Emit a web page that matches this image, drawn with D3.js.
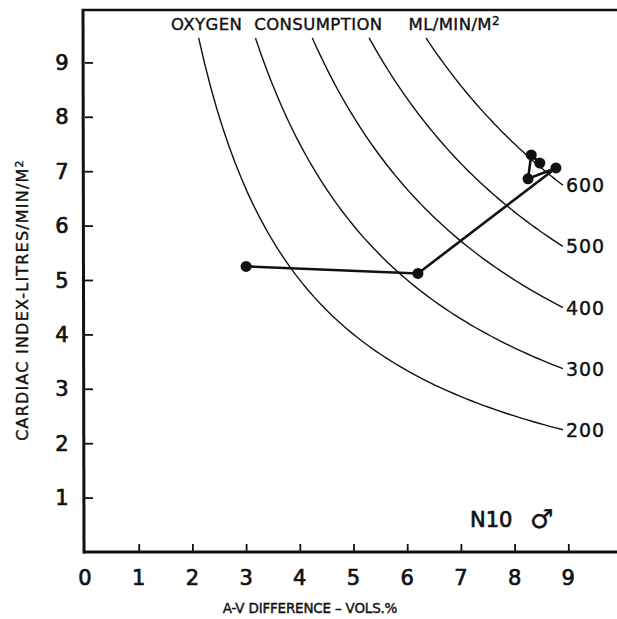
<!DOCTYPE html>
<html>
<head>
<meta charset="utf-8">
<script src="https://cdn.jsdelivr.net/npm/d3@7"></script>
<style>
  html, body { margin: 0; padding: 0; background: #fff; }
  #graph { width: 617px; height: 619px; }
  text { font-family: "DejaVu Sans", sans-serif; fill: #111; }
  .heavy { stroke: #111; stroke-width: 0.7px; }
  .mid { stroke: #111; stroke-width: 0.4px; }
</style>
</head>
<body>
<div id="graph"></div>
<script>
// tick labels
var xTicks = [0, 1, 2, 3, 4, 5, 6, 7, 8, 9];
var yTicks = [1, 2, 3, 4, 5, 6, 7, 8, 9];

// oxygen consumption iso-lines (ml/min/m2)
var levels = [200, 300, 400, 500, 600];

// measured points: A-V difference (vols %), cardiac index (l/min/m2)
var avDiff = [3.0, 6.2, 8.77, 8.25, 8.31, 8.47];
var cardiacIndex = [5.25, 5.12, 7.06, 6.86, 7.3, 7.15];

var svg = d3.select("#graph").append("svg")
  .attr("width", 617).attr("height", 619);

var xScale = d3.scaleLinear().domain([0, 10]).range([85, 622]);
var yScale = d3.scaleLinear().domain([0, 10]).range([552, 8]);

var ink = "#111";

// frame: left axis, bottom axis, top rule
svg.append("line")
  .attr("x1", 82).attr("y1", 10).attr("x2", 617).attr("y2", 10)
  .attr("stroke", ink).attr("stroke-width", 2.5);

var xAxis = svg.append("g")
  .attr("transform", "translate(0," + yScale(0) + ")")
  .call(d3.axisBottom(xScale).tickValues(xTicks.slice(1)).tickSizeInner(-8).tickSizeOuter(0).tickFormat(""));
xAxis.select(".domain").remove();
xAxis.selectAll(".tick line").attr("stroke", ink).attr("stroke-width", 1.8);

svg.append("line")
  .attr("x1", 83).attr("y1", yScale(0)).attr("x2", 617).attr("y2", yScale(0))
  .attr("stroke", ink).attr("stroke-width", 3);

var yAxis = svg.append("g")
  .attr("transform", "translate(" + xScale(0) + ",0)")
  .call(d3.axisLeft(yScale).tickValues(yTicks).tickSizeInner(-8).tickSizeOuter(0).tickFormat(""));
yAxis.select(".domain").remove();
yAxis.selectAll(".tick line").attr("stroke", ink).attr("stroke-width", 1.8);

svg.append("line")
  .attr("x1", 83).attr("y1", 9).attr("x2", 84).attr("y2", yScale(0) + 1.5)
  .attr("stroke", ink).attr("stroke-width", 3);

// tick labels
svg.selectAll(".xlab").data(xTicks).enter().append("text")
  .attr("class", "xlab heavy")
  .attr("x", function(d) { return xScale(d); })
  .attr("y", 585)
  .attr("text-anchor", "middle")
  .attr("font-size", 21)
  .text(function(d) { return d; });

svg.selectAll(".ylab").data(yTicks).enter().append("text")
  .attr("class", "ylab heavy")
  .attr("x", 62)
  .attr("y", function(d) { return yScale(d) + 7.5; })
  .attr("text-anchor", "middle")
  .attr("font-size", 21)
  .text(function(d) { return d; });

// iso-lines: cardiac index = VO2 / (10 * A-V difference)
var ciTop = 9.45, avEnd = 8.9;
var line = d3.line()
  .x(function(d) { return xScale(d[0]); })
  .y(function(d) { return yScale(d[1]); });

levels.forEach(function(v) {
  var k = v / 10;
  var a0 = k / ciTop;
  var pts = d3.range(0, 61).map(function(i) {
    var a = a0 + (avEnd - a0) * i / 60;
    return [a, k / a];
  });
  svg.append("path")
    .attr("d", line(pts))
    .attr("fill", "none")
    .attr("stroke", ink)
    .attr("stroke-width", 1.4);
  svg.append("text")
    .attr("class", "mid")
    .attr("x", xScale(avEnd) + 3)
    .attr("y", yScale(k / avEnd) + 7)
    .attr("font-size", 19)
    .attr("letter-spacing", 1)
    .text(v);
});

// measured path
var pts = avDiff.map(function(d, i) { return [d, cardiacIndex[i]]; });
svg.append("path")
  .attr("d", line(pts))
  .attr("fill", "none")
  .attr("stroke", ink)
  .attr("stroke-width", 2.6);

svg.selectAll(".pt").data(pts).enter().append("circle")
  .attr("class", "pt")
  .attr("cx", function(d) { return xScale(d[0]); })
  .attr("cy", function(d) { return yScale(d[1]); })
  .attr("r", 5.5)
  .attr("fill", ink);

// titles
var title = svg.append("text")
  .attr("class", "mid")
  .attr("x", 171).attr("y", 30)
  .attr("font-size", 16.5)
  .attr("letter-spacing", 0.4);
title.append("tspan").text("OXYGEN");
title.append("tspan").attr("dx", 12).text("CONSUMPTION");
title.append("tspan").attr("dx", 26).text("ML/MIN/M");
title.append("tspan").attr("dy", -5).attr("font-size", 12).text("2");

svg.append("text")
  .attr("class", "mid")
  .attr("x", 310).attr("y", 613)
  .attr("text-anchor", "middle")
  .attr("font-size", 13.5)
  .attr("letter-spacing", -0.2)
  .text("A-V DIFFERENCE \u2013 VOLS.%");

var ylab = svg.append("text")
  .attr("class", "mid")
  .attr("transform", "translate(28,300) rotate(-90)")
  .attr("text-anchor", "middle")
  .attr("font-size", 16)
  .attr("letter-spacing", 1.2);
ylab.append("tspan").text("CARDIAC INDEX-LITRES/MIN/M");
ylab.append("tspan").attr("dy", -5).attr("font-size", 11).text("2");

svg.append("text")
  .attr("class", "heavy")
  .attr("x", 470).attr("y", 527)
  .attr("font-size", 21)
  .text("N10");

svg.append("text")
  .attr("x", 530).attr("y", 528)
  .attr("font-size", 26)
  .attr("class", "mid")
  .text("\u2642");
</script>
</body>
</html>
